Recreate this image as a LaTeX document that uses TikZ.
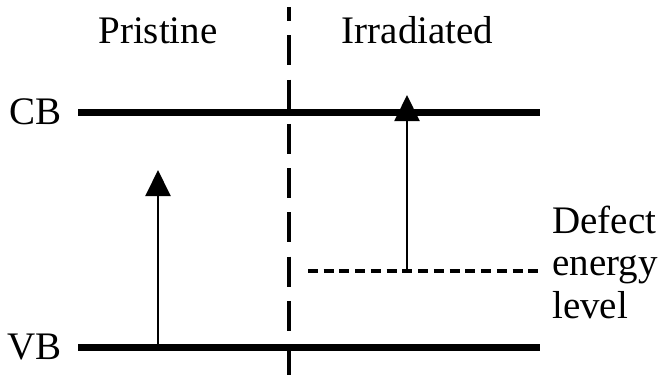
\documentclass[tikz,border=0pt]{standalone}
\usepackage{fontspec}
\setmainfont{Liberation Serif}
\usetikzlibrary{arrows.meta,positioning}

\begin{document}
\begin{tikzpicture}[x=0.75pt,y=-0.75pt,
  band/.style={line width=5.25pt},
  divider/.style={line width=3pt,dash pattern=on 22.5pt off 10.7pt,dash phase=12pt},
  defect/.style={line width=2.6pt,dash pattern=on 7.5pt off 4.3pt},
  excite/.style={line width=1.5pt,-{Triangle[length=19.5pt,width=18.75pt]}},
  lbl/.style={inner sep=0pt,font=\fontsize{29.25}{31.9}\selectfont}]
  \useasboundingbox (0,0) rectangle (663,376);
  % band edges
  \coordinate (cbL) at (78,112);
  \coordinate (cbR) at (540,112);
  \coordinate (vbL) at (78,347);
  \coordinate (vbR) at (540,347);
  \draw[band] (cbL) -- (cbR);
  \draw[band] (vbL) -- (vbR);
  \node[lbl,left=12pt of cbL] (cb) {CB};
  \node[lbl,left=12pt of vbL] (vb) {VB};
  % pristine / irradiated split
  \coordinate (top) at (289,7);
  \coordinate (bot) at (289,376);
  \draw[divider] (top) -- (bot);
  \node[lbl,anchor=base] (pri) at (158,43) {Pristine};
  \node[lbl,anchor=base] (irr) at (417.5,43) {Irradiated};
  % defect level
  \coordinate (dL) at (308,271);
  \coordinate (dR) at (540,271);
  \draw[defect] (dL) -- (dR);
  \node[lbl,anchor=north west,align=left] (def) at (552,205.5) {Defect\\energy\\level};
  % transitions
  \coordinate (p0) at (158,347);
  \coordinate (p1) at (158,170);
  \coordinate (i0) at (407,271);
  \coordinate (i1) at (407,95);
  \draw[excite] (p0) -- (p1);
  \draw[excite] (i0) -- (i1);
\end{tikzpicture}
\end{document}
